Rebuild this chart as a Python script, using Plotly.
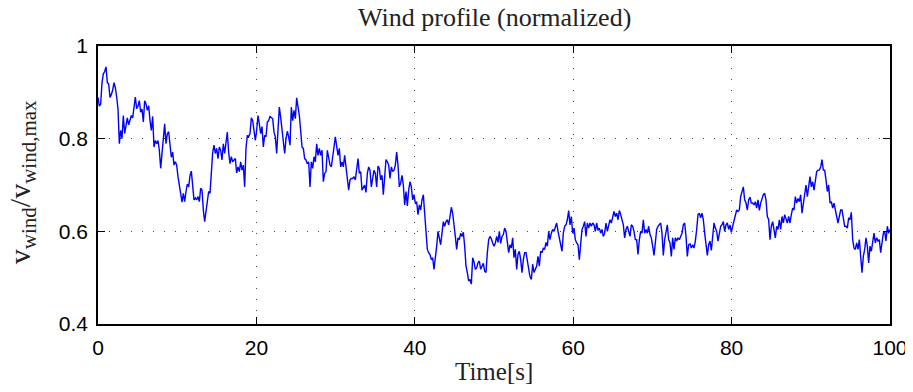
import numpy as np
import plotly.graph_objects as go

# Normalized wind speed, in four consecutive time segments
wind_seg1 = [0.889, 0.87, 0.875, 0.921, 0.94, 0.945, 0.955, 0.921, 0.918, 0.889, 0.895, 0.905,
             0.921, 0.91, 0.89, 0.864, 0.789, 0.818, 0.8, 0.85, 0.811, 0.83, 0.845, 0.83,
             0.84, 0.85, 0.845, 0.87, 0.89, 0.865, 0.87, 0.882, 0.857, 0.864, 0.836, 0.882,
             0.875, 0.861, 0.871, 0.839, 0.818, 0.848, 0.782, 0.796, 0.789, 0.796, 0.775, 0.736,
             0.764, 0.796, 0.832, 0.789, 0.81, 0.815, 0.78, 0.76, 0.771, 0.743, 0.75, 0.743,
             0.718, 0.696, 0.682, 0.663, 0.682, 0.664, 0.686, 0.702, 0.696, 0.72, 0.73, 0.69,
             0.668, 0.672, 0.668, 0.675, 0.664, 0.693, 0.689, 0.646, 0.621, 0.643, 0.668, 0.686,
             0.682, 0.72, 0.77, 0.786, 0.768, 0.779, 0.757, 0.782, 0.775, 0.754, 0.789, 0.768,
             0.796, 0.814, 0.77, 0.746, 0.761, 0.75, 0.754, 0.757, 0.726, 0.739, 0.729, 0.75,
             0.732, 0.743, 0.696, 0.78, 0.807, 0.804, 0.811, 0.845, 0.839, 0.818, 0.796, 0.818,
             0.85, 0.832, 0.811, 0.826, 0.782, 0.807, 0.804, 0.836, 0.839, 0.848, 0.846, 0.843,
             0.814, 0.804, 0.768, 0.818, 0.868, 0.846, 0.821, 0.796, 0.768, 0.8, 0.816, 0.804]

wind_seg2 = [0.786, 0.868, 0.839, 0.861, 0.843, 0.888, 0.868, 0.85, 0.818, 0.782, 0.779, 0.757,
             0.754, 0.746, 0.75, 0.696, 0.75, 0.736, 0.761, 0.75, 0.789, 0.764, 0.779, 0.764,
             0.775, 0.707, 0.725, 0.729, 0.775, 0.761, 0.743, 0.739, 0.757, 0.782, 0.804, 0.782,
             0.764, 0.779, 0.739, 0.75, 0.739, 0.764, 0.736, 0.718, 0.689, 0.711, 0.714, 0.714,
             0.718, 0.711, 0.736, 0.757, 0.725, 0.729, 0.689, 0.696, 0.7, 0.684, 0.725, 0.739,
             0.732, 0.696, 0.711, 0.732, 0.725, 0.696, 0.741, 0.736, 0.711, 0.721, 0.679, 0.725,
             0.755, 0.75, 0.743, 0.714, 0.739, 0.729, 0.732, 0.743, 0.771, 0.743, 0.696, 0.704,
             0.721, 0.7, 0.657, 0.686, 0.655, 0.689, 0.707, 0.696, 0.668, 0.679, 0.661, 0.663,
             0.636, 0.657, 0.646, 0.668, 0.679, 0.639, 0.596, 0.561, 0.554, 0.55, 0.539, 0.543,
             0.518, 0.539, 0.568, 0.6, 0.582, 0.571, 0.596, 0.621, 0.611, 0.621, 0.625, 0.614,
             0.632, 0.652, 0.639, 0.618, 0.589, 0.561, 0.586, 0.582, 0.596, 0.589, 0.598, 0.568,
             0.525, 0.511, 0.493, 0.496, 0.486, 0.543, 0.534, 0.518, 0.521, 0.532, 0.536, 0.518,
             0.525, 0.531, 0.514, 0.511, 0.554, 0.582]

wind_seg3 = [0.589, 0.584, 0.575, 0.568, 0.575, 0.589, 0.576, 0.6, 0.574, 0.589, 0.593, 0.607,
             0.6, 0.582, 0.554, 0.571, 0.564, 0.586, 0.543, 0.561, 0.518, 0.55, 0.557, 0.539,
             0.511, 0.539, 0.554, 0.554, 0.539, 0.518, 0.502, 0.496, 0.529, 0.511, 0.518, 0.525,
             0.546, 0.525, 0.557, 0.554, 0.564, 0.561, 0.576, 0.568, 0.6, 0.582, 0.596, 0.604,
             0.6, 0.607, 0.618, 0.6, 0.586, 0.571, 0.557, 0.596, 0.611, 0.614, 0.625,
             0.645, 0.614, 0.632, 0.596, 0.607, 0.582, 0.575, 0.571, 0.539, 0.579, 0.604, 0.611,
             0.621, 0.589, 0.618, 0.607, 0.618, 0.611, 0.618, 0.614, 0.6, 0.618, 0.602, 0.607,
             0.596, 0.604, 0.589, 0.596, 0.618, 0.6, 0.614, 0.625, 0.618, 0.632, 0.643, 0.632,
             0.639, 0.625, 0.645, 0.636, 0.621, 0.614, 0.586, 0.604, 0.611, 0.596, 0.589, 0.614,
             0.611, 0.6, 0.582, 0.582, 0.55, 0.582, 0.6, 0.596, 0.625, 0.596, 0.604, 0.596,
             0.611, 0.593, 0.586, 0.568, 0.548, 0.575, 0.604, 0.611, 0.614, 0.618, 0.596, 0.548,
             0.582, 0.596, 0.614, 0.582, 0.575, 0.546, 0.586, 0.561, 0.586, 0.579, 0.586, 0.582,
             0.589, 0.596, 0.614, 0.618, 0.589, 0.546, 0.571]

wind_seg4 = [0.573, 0.564, 0.571, 0.564, 0.579, 0.604, 0.636, 0.639, 0.629, 0.639, 0.625, 0.596,
             0.575, 0.548, 0.571, 0.579, 0.559, 0.596, 0.618, 0.607, 0.6, 0.579, 0.593, 0.611,
             0.614, 0.621, 0.6, 0.614, 0.618, 0.604, 0.614, 0.598, 0.611, 0.621, 0.632, 0.646,
             0.643, 0.646, 0.675, 0.689, 0.696, 0.668, 0.661, 0.646, 0.668, 0.674, 0.661, 0.661,
             0.657, 0.664, 0.65, 0.668, 0.645, 0.661, 0.671, 0.679, 0.682, 0.668, 0.632, 0.625,
             0.582, 0.611, 0.621, 0.6, 0.586, 0.611, 0.604, 0.625, 0.604, 0.632, 0.618, 0.636,
             0.625, 0.618, 0.632, 0.618, 0.636, 0.65, 0.646, 0.675, 0.661, 0.671, 0.664, 0.679,
             0.639, 0.661, 0.675, 0.7, 0.675, 0.696, 0.718, 0.696, 0.707, 0.689, 0.707, 0.729,
             0.732, 0.732, 0.739, 0.755, 0.732, 0.732, 0.711, 0.686, 0.7, 0.661, 0.664, 0.65,
             0.661, 0.646, 0.629, 0.618, 0.632, 0.646, 0.646, 0.625, 0.611, 0.611, 0.607, 0.629,
             0.625, 0.641, 0.582, 0.564, 0.561, 0.575, 0.561, 0.582, 0.546, 0.511, 0.546, 0.561,
             0.586, 0.568, 0.532, 0.568, 0.557, 0.575, 0.596, 0.575, 0.586, 0.579, 0.582, 0.554,
             0.582, 0.596, 0.6, 0.579, 0.611, 0.596, 0.604]

x_ticks = [0, 20, 40, 60, 80, 100]
y_ticks = [0.4, 0.6, 0.8, 1.0]
y_tick_labels = ["0.4", "0.6", "0.8", "1"]

wind = wind_seg1 + wind_seg2 + wind_seg3 + wind_seg4
t_start, t_end = 0.0, 100.0
time = np.linspace(t_start, t_end, len(wind))  # uniform sampling time axis

fig = go.Figure()
fig.add_trace(go.Scatter(x=time, y=wind, mode="lines",
                         line=dict(color="#0000FF", width=1.4), hoverinfo="skip"))

axis_common = dict(
    showline=True, linecolor="black", linewidth=1.5, mirror="ticks",
    ticks="inside", ticklen=7, tickwidth=1, tickcolor="black",
    showgrid=True, gridcolor="#444444", gridwidth=1, griddash="1px,10px",
    zeroline=False, automargin=False,
    tickfont=dict(family="Liberation Sans, Arial, sans-serif", size=21, color="black"),
    ticklabelstandoff=4,
)

fig.update_xaxes(range=[0, 100], tickvals=x_ticks, ticktext=[str(v) for v in x_ticks], **axis_common)
fig.update_yaxes(range=[0.4, 1.0], tickvals=y_ticks, ticktext=y_tick_labels, **axis_common)

# The page body adds an 8px offset, so the figure is sized to fill the rest of the window.
serif = "Liberation Serif, Times New Roman, serif"
fig.update_layout(
    width=905, height=384,
    margin=dict(l=90, r=23, t=38, b=68),
    paper_bgcolor="white", plot_bgcolor="white",
    showlegend=False,
    annotations=[
        dict(text="Wind profile (normalized)", xref="paper", yref="paper", x=0.5, y=1.0,
             xanchor="center", yanchor="bottom", yshift=12, showarrow=False,
             font=dict(family=serif, size=26, color="#222222")),
        dict(text="Time[s]", xref="paper", yref="paper", x=0.5, y=-0.115, xanchor="center", yanchor="top",
             showarrow=False, font=dict(family=serif, size=25, color="#222222")),
        dict(text="v<sub>wind</sub>/v<sub>wind,max</sub>", xref="paper", yref="paper", x=-0.096, y=0.51,
             xanchor="center", yanchor="middle", textangle=-90, showarrow=False,
             font=dict(family=serif, size=30, color="#222222")),
    ],
)

fig.write_html("out.html")
